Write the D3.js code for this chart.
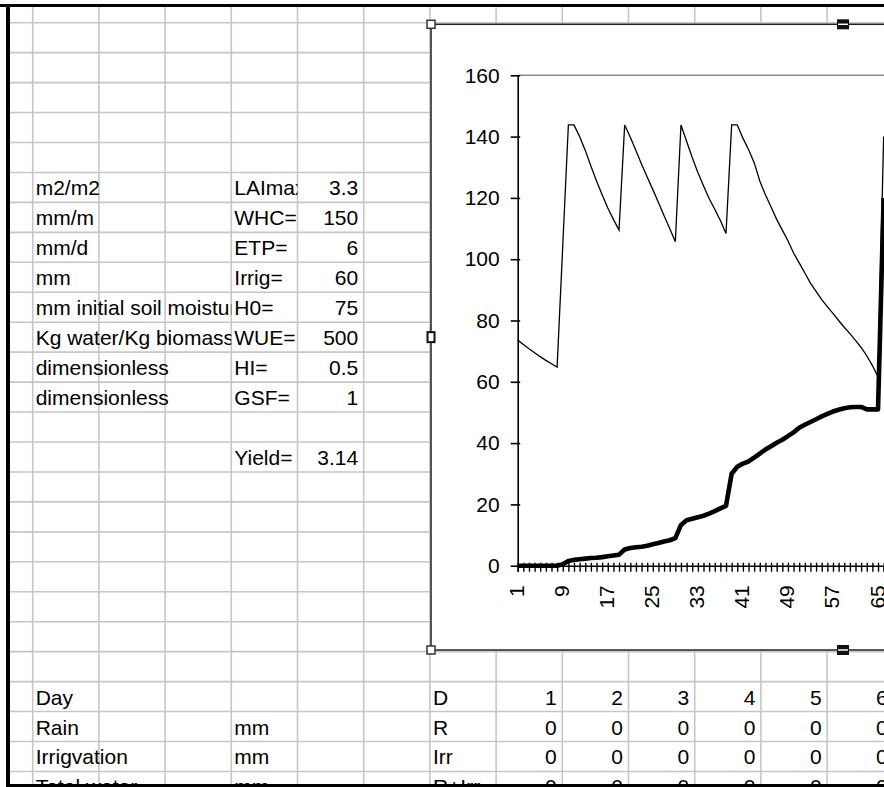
<!DOCTYPE html>
<html>
<head>
<meta charset="utf-8">
<script src="https://cdn.jsdelivr.net/npm/d3@7"></script>
<style>
  html, body { margin: 0; padding: 0; background: #fff; }
  svg { display: block; }
  text { font-family: "Liberation Sans", Arial, sans-serif; font-size: 21px; fill: #000; }
</style>
</head>
<body>
<svg id="sheet" width="884" height="787"></svg>
<script>
// ---- Model parameters shown in the sheet ----
const paramUnits  = ["m2/m2", "mm/m", "mm/d", "mm", "mm initial soil moisture",
                     "Kg water/Kg biomass", "dimensionless", "dimensionless"];
const paramNames  = ["LAImax", "WHC=", "ETP=", "Irrig=", "H0=", "WUE=", "HI=", "GSF="];
const paramValues = ["3.3", "150", "6", "60", "75", "500", "0.5", "1"];
const yieldLabel = "Yield=";
const yieldValue = "3.14";

// ---- Daily table (first columns) ----
const tableLabels = ["Day", "Rain", "Irrigvation", "Total water"];
const tableUnits  = ["", "mm", "mm", "mm"];
const tableCodes  = ["D", "R", "Irr", "R+Irr"];
const dayNumbers  = [1, 2, 3, 4, 5, 6];
const rainValues  = [0, 0, 0, 0, 0, 0];
const irrValues   = [0, 0, 0, 0, 0, 0];
const totalValues = [0, 0, 0, 0, 0, 0];

// ---- Chart series: soil water (mm) and cumulative biomass, per day ----
const days = d3.range(1, 67);
const soilWater = [
  73.6, 72.2, 70.8, 69.5, 68.2, 67.0, 65.9, 64.8, 104.3, 143.8,
  143.8, 140.0, 135.5, 130.4, 125.5, 121.0, 116.7, 113.0, 109.5, 143.8,
  139.8, 135.5, 131.0, 126.8, 122.7, 118.5, 114.2, 110.0, 105.7, 143.8,
  138.5, 133.2, 128.3, 124.0, 119.8, 116.3, 112.6, 108.4, 143.8, 143.8,
  139.5, 135.8, 131.5, 125.5, 121.0, 117.0, 113.0, 109.5, 106.0, 102.0,
  98.8, 95.5, 92.2, 89.5, 86.8, 84.5, 82.3, 80.0, 77.8, 75.7,
  73.5, 71.2, 68.5, 65.3, 61.7, 140.0
];
const biomass = [
  0, 0, 0, 0, 0, 0, 0, 0, 0.5, 1.5,
  1.9, 2.1, 2.3, 2.5, 2.6, 2.8, 3.1, 3.3, 3.6, 5.3,
  5.8, 6.0, 6.2, 6.5, 7.0, 7.4, 7.9, 8.3, 9.0, 13.3,
  14.8, 15.3, 15.8, 16.3, 17.0, 17.8, 18.7, 19.5, 30.0, 32.3,
  33.3, 34.0, 35.3, 36.6, 37.9, 39.0, 40.1, 41.1, 42.3, 43.5,
  45.0, 46.0, 46.9, 47.8, 48.7, 49.5, 50.3, 50.9, 51.4, 51.7,
  51.8, 51.8, 51.0, 51.0, 51.0, 120.0
];
const yTicks = [0, 20, 40, 60, 80, 100, 120, 140, 160];
const labelEvery = 8;

// ---- Sheet geometry ----
const W = 884, H = 787;
const frameLeft = 10, frameTop = 7, frameBottom = 784;
const colW = 66.2, col0 = 32.7;       // first grid column line
const rowH = 29.95, row0 = 22.7;      // first grid row line
const colX = k => col0 + k * colW;
const rowY = k => row0 + k * rowH;
const FONT = '"Liberation Sans", Arial, sans-serif';

const svg = d3.select("#sheet");
svg.append("rect").attr("width", W).attr("height", H).attr("fill", "#fff");

// grid lines
const grid = svg.append("g").attr("stroke", "#c6c6c6").attr("stroke-width", 1.6);
for (let k = 0; k < 14; k++) {
  grid.append("line").attr("x1", colX(k)).attr("x2", colX(k))
      .attr("y1", frameTop).attr("y2", frameBottom);
}
for (let k = 0; k < 26; k++) {
  grid.append("line").attr("x1", frameLeft).attr("x2", W)
      .attr("y1", rowY(k)).attr("y2", rowY(k));
}

// clip regions for text that overflows into neighbouring cells
const defs = svg.append("defs");
defs.append("clipPath").attr("id", "clipUnits")
  .append("rect").attr("x", colX(0)).attr("y", 0).attr("width", colX(3) - colX(0)).attr("height", H);
defs.append("clipPath").attr("id", "clipNames")
  .append("rect").attr("x", colX(3)).attr("y", 0).attr("width", colX(4) - colX(3)).attr("height", H);

const baseline = r => rowY(r + 1) - 7;
const leftX = c => colX(c) + 3;
const rightX = c => colX(c + 1) - 5.5;

// parameter block (rows 5..12) and yield
const cells = svg.append("g");
paramUnits.forEach((t, i) => {
  cells.append("text").attr("x", leftX(0)).attr("y", baseline(5 + i))
    .attr("clip-path", "url(#clipUnits)").text(t);
});
paramNames.forEach((t, i) => {
  cells.append("text").attr("x", leftX(3)).attr("y", baseline(5 + i))
    .attr("clip-path", "url(#clipNames)").text(t);
});
paramValues.forEach((t, i) => {
  cells.append("text").attr("x", rightX(4)).attr("y", baseline(5 + i))
    .attr("text-anchor", "end").text(t);
});
cells.append("text").attr("x", leftX(3)).attr("y", baseline(14)).text(yieldLabel);
cells.append("text").attr("x", rightX(4)).attr("y", baseline(14))
  .attr("text-anchor", "end").text(yieldValue);

// daily table (rows 22..25)
const tableRows = [dayNumbers, rainValues, irrValues, totalValues];
tableLabels.forEach((t, i) => {
  const r = 22 + i;
  cells.append("text").attr("x", leftX(0)).attr("y", baseline(r)).text(t);
  if (tableUnits[i]) cells.append("text").attr("x", leftX(3)).attr("y", baseline(r)).text(tableUnits[i]);
  cells.append("text").attr("x", leftX(6)).attr("y", baseline(r)).text(tableCodes[i]);
  tableRows[i].forEach((v, j) => {
    cells.append("text").attr("x", rightX(7 + j)).attr("y", baseline(r))
      .attr("text-anchor", "end").text(v);
  });
});

// ---- Embedded chart ----
const chartLeft = 431, chartTop = 24.3, chartBottom = 650, chartRight = 1255;
svg.append("rect")
  .attr("x", chartLeft).attr("y", chartTop)
  .attr("width", chartRight - chartLeft).attr("height", chartBottom - chartTop)
  .attr("fill", "#fff").attr("stroke", "#222").attr("stroke-width", 1.5);

const plotLeft = 517.7, plotTop = 75.3, plotBottom = 565.7, dayStep = 5.63;
const x = d3.scalePoint().domain(days)
  .range([plotLeft, plotLeft + (days.length - 1) * dayStep]);
const y = d3.scaleLinear().domain([0, 160]).range([plotBottom, plotTop]);

// plot-area border (top edge visible)
svg.append("line").attr("x1", plotLeft).attr("x2", 1200)
  .attr("y1", y(160)).attr("y2", y(160))
  .attr("stroke", "#8c8c8c").attr("stroke-width", 1.4);

const yAxis = svg.append("g").attr("transform", `translate(${plotLeft},0)`)
  .call(d3.axisLeft(y).tickValues(yTicks).tickSize(7).tickSizeOuter(0).tickPadding(11));
yAxis.select(".domain").attr("stroke", "#000").attr("stroke-width", 1.6);
yAxis.selectAll(".tick line").attr("x1", 2.5).attr("x2", -7)
  .attr("stroke", "#000").attr("stroke-width", 1.6);
yAxis.selectAll(".tick text").style("font-size", "21px")
  .style("font-family", FONT).attr("fill", "#000");

const xAxis = svg.append("g").attr("transform", `translate(0,${plotBottom})`)
  .call(d3.axisBottom(x).tickSizeOuter(0).tickSize(6)
    .tickFormat(d => (d - 1) % labelEvery === 0 ? String(d) : ""));
xAxis.select(".domain").attr("stroke", "#000").attr("stroke-width", 1.6);
xAxis.selectAll(".tick line").attr("y1", -3).attr("y2", 6)
  .attr("stroke", "#000").attr("stroke-width", 1.4);
xAxis.selectAll(".tick text")
  .attr("x", 0).attr("y", 0).attr("dy", null)
  .attr("transform", "translate(-1.5,19.5) rotate(-90)")
  .attr("text-anchor", "end").attr("dominant-baseline", "central")
  .style("font-size", "21px")
  .style("font-family", FONT).attr("fill", "#000");

const line = d3.line().x((d, i) => x(days[i])).y(d => y(d));
svg.append("path").datum(soilWater).attr("d", line)
  .attr("fill", "none").attr("stroke", "#000").attr("stroke-width", 1.3);
svg.append("path").datum(biomass).attr("d", line)
  .attr("fill", "none").attr("stroke", "#000").attr("stroke-width", 4.6)
  .attr("stroke-linejoin", "round");

// selection handles on the chart frame
const midX = (chartLeft + chartRight) / 2, midY = (chartTop + chartBottom) / 2;
[[chartLeft, chartTop], [chartLeft, chartBottom]].forEach(([hx, hy]) => {
  svg.append("rect").attr("x", hx - 4).attr("y", hy - 4).attr("width", 8).attr("height", 8)
    .attr("fill", "#fff").attr("stroke", "#333").attr("stroke-width", 1.5);
});
[[midX, chartTop], [midX, chartBottom]].forEach(([hx, hy]) => {
  svg.append("rect").attr("x", hx - 6).attr("y", hy - 5).attr("width", 12).attr("height", 10)
    .attr("fill", "#111");
  svg.append("line").attr("x1", hx - 5).attr("x2", hx + 5).attr("y1", hy).attr("y2", hy)
    .attr("stroke", "#fff").attr("stroke-width", 1.5);
});
svg.append("rect").attr("x", chartLeft - 3.5).attr("y", midY - 5).attr("width", 7).attr("height", 10)
  .attr("fill", "#fff").attr("stroke", "#111").attr("stroke-width", 2);

// window frame
svg.append("rect").attr("x", 0).attr("y", 4).attr("width", W).attr("height", 3).attr("fill", "#000");
svg.append("rect").attr("x", 6).attr("y", 4).attr("width", 4).attr("height", frameBottom - 4).attr("fill", "#000");
svg.append("rect").attr("x", 6).attr("y", frameBottom).attr("width", W).attr("height", 3).attr("fill", "#000");
</script>
</body>
</html>
